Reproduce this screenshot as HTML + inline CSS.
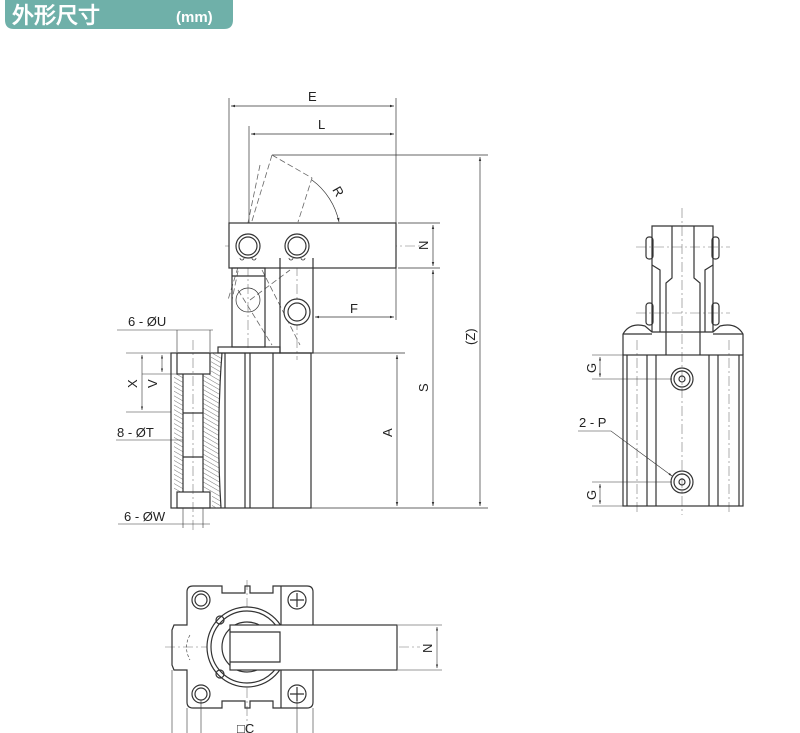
<!DOCTYPE html>
<html><head><meta charset="utf-8"><style>
body{margin:0;background:#fff;width:800px;height:733px;overflow:hidden}
svg{display:block}
text{font-family:"Liberation Sans",sans-serif;fill:#222}
</style></head><body>
<svg width="800" height="733" viewBox="0 0 800 733" xmlns="http://www.w3.org/2000/svg">
<defs>
<pattern id="h" width="4" height="4" patternUnits="userSpaceOnUse" patternTransform="rotate(-60)">
<line x1="0" y1="0" x2="0" y2="4" stroke="#666" stroke-width="0.9"/></pattern>
<marker id="a" viewBox="0 0 10 10" refX="10" refY="5" markerWidth="6" markerHeight="6" orient="auto-start-reverse"><path d="M0,2L10,5L0,8z" fill="#333"/></marker>
</defs>
<!-- header -->
<path d="M5,0 H233 V20 Q233,29 224,29 H14 Q5,29 5,20 Z" fill="#6fb0a9"/>
<text x="12" y="23" font-family="'Liberation Sans','Noto Sans CJK SC',sans-serif" font-size="22" font-weight="bold" style="fill:#fff">外形尺寸</text>
<text x="176" y="22" font-size="15" font-weight="bold" style="fill:#fff">(mm)</text>

<g fill="none" stroke="#333" stroke-width="1.2">
<!-- dimension lines top -->
<line x1="229" y1="98" x2="229" y2="223" stroke-width="0.7"/>
<line x1="396" y1="98" x2="396" y2="223" stroke-width="0.7"/>
<line x1="249" y1="126" x2="249" y2="223" stroke-width="0.7"/>
<line x1="231" y1="106" x2="394" y2="106" stroke-width="0.7" marker-start="url(#a)" marker-end="url(#a)"/>
<line x1="251" y1="134" x2="394" y2="134" stroke-width="0.7" marker-start="url(#a)" marker-end="url(#a)"/>
<line x1="272" y1="155" x2="488" y2="155" stroke-width="0.7"/>
<line x1="480" y1="157" x2="480" y2="506" stroke-width="0.7" marker-start="url(#a)" marker-end="url(#a)"/>
<line x1="398" y1="223" x2="440" y2="223" stroke-width="0.7"/>
<line x1="398" y1="268" x2="440" y2="268" stroke-width="0.7"/>
<line x1="433" y1="225" x2="433" y2="266" stroke-width="0.7" marker-start="url(#a)" marker-end="url(#a)"/>
<line x1="433" y1="270" x2="433" y2="506" stroke-width="0.7" marker-start="url(#a)" marker-end="url(#a)"/>
<line x1="311" y1="353" x2="405" y2="353" stroke-width="0.7"/>
<line x1="311" y1="508" x2="488" y2="508" stroke-width="0.7"/>
<line x1="397" y1="355" x2="397" y2="506" stroke-width="0.7" marker-start="url(#a)" marker-end="url(#a)"/>
<line x1="396" y1="268" x2="396" y2="320" stroke-width="0.7"/>
<line x1="315" y1="317" x2="394" y2="317" stroke-width="0.7" marker-start="url(#a)" marker-end="url(#a)"/>
<path d="M312,180 A70,70 0 0 1 339,222" stroke-width="0.7" marker-end="url(#a)"/>

<!-- dashed rotated lever -->
<g stroke-dasharray="6,3" stroke-width="0.8" stroke="#666">
<path d="M272,155 L312,178 L298,222"/>
<path d="M272,155 L228,300 M260,165 L232,300"/>
<path d="M238,290 L272,345 M262,270 L300,345 M250,300 L290,270"/>
</g>
<!-- centerlines -->
<g stroke-dasharray="10,3,2,3" stroke-width="0.6" stroke="#777">
<line x1="225" y1="246" x2="420" y2="246"/>
<line x1="248" y1="230" x2="248" y2="350"/>
<line x1="297" y1="230" x2="297" y2="360"/>
<line x1="193" y1="340" x2="193" y2="530"/>
</g>
<!-- lever -->
<rect x="229" y="223" width="167" height="45" fill="#fff"/>
<circle cx="248" cy="246" r="12" fill="#fff"/><circle cx="248" cy="246" r="9"/>
<path d="M240,258 a2,2 0 1 0 4,0 M252,258 a2,2 0 1 0 4,0" stroke-width="0.8"/>
<circle cx="297" cy="246" r="12" fill="#fff"/><circle cx="297" cy="246" r="9"/>
<path d="M289,258 a2,2 0 1 0 4,0 M301,258 a2,2 0 1 0 4,0" stroke-width="0.8"/>
<!-- left link -->
<rect x="232" y="268" width="33" height="79"/>
<line x1="232" y1="276" x2="265" y2="276"/>
<circle cx="248" cy="300" r="12" stroke-width="0.7"/>
<!-- right plate -->
<path d="M280,258 V353 H313 V258"/>
<circle cx="297" cy="312" r="13" fill="#fff"/><circle cx="297" cy="312" r="9"/>
<!-- flange -->
<rect x="218" y="347" width="62" height="6"/>
<!-- body -->
<rect x="171" y="353" width="140" height="155" fill="none"/>
<line x1="225" y1="353" x2="225" y2="508"/>
<line x1="245" y1="353" x2="245" y2="508"/>
<line x1="250" y1="353" x2="250" y2="508"/>
<line x1="273" y1="353" x2="273" y2="508"/>
<!-- hatch -->
<path d="M174,374 H183 V492 H174 Z" fill="url(#h)" stroke="none"/>
<path d="M203,374 H211 V353 H222 Q216,430 221,508 H212 V492 H203 Z" fill="url(#h)" stroke="none"/>
<rect x="177" y="353" width="33" height="21"/>
<rect x="177" y="492" width="33" height="16"/>
<line x1="183" y1="374" x2="183" y2="492"/>
<line x1="203" y1="374" x2="203" y2="492"/>
<line x1="183" y1="413" x2="203" y2="413"/><line x1="183" y1="457" x2="203" y2="457"/>
<path d="M222,353 Q216,430 221,508"/>
<!-- left dims -->
<line x1="117" y1="330" x2="213" y2="330" stroke-width="0.6"/>
<line x1="177" y1="330" x2="177" y2="352" stroke-width="0.6"/>
<line x1="210" y1="330" x2="210" y2="352" stroke-width="0.6"/>
<line x1="126" y1="353" x2="171" y2="353" stroke-width="0.6"/>
<line x1="126" y1="412" x2="171" y2="412" stroke-width="0.6"/>
<line x1="142" y1="374" x2="177" y2="374" stroke-width="0.6"/>
<line x1="142" y1="355" x2="142" y2="410" stroke-width="0.6" marker-start="url(#a)" marker-end="url(#a)"/>
<line x1="162" y1="355" x2="162" y2="372" stroke-width="0.6" marker-start="url(#a)" marker-end="url(#a)"/>
<line x1="116" y1="440" x2="183" y2="440" stroke-width="0.6"/>
<line x1="118" y1="524" x2="210" y2="524" stroke-width="0.6"/>
<line x1="183" y1="508" x2="183" y2="528" stroke-width="0.6"/>
<line x1="203" y1="508" x2="203" y2="528" stroke-width="0.6"/>

<!-- right view -->
<g stroke-dasharray="10,3,2,3" stroke-width="0.6" stroke="#777">
<line x1="682" y1="208" x2="682" y2="515"/>
<line x1="636" y1="247" x2="730" y2="247"/>
<line x1="636" y1="313" x2="730" y2="313"/>
<line x1="637" y1="340" x2="637" y2="515"/>
<line x1="729" y1="340" x2="729" y2="515"/>
</g>
<rect x="623" y="355" width="120" height="151"/>
<path d="M623,355 V334 Q630,322 645,326 L652,332 H713 L720,326 Q736,322 743,334 V355"/>
<line x1="623" y1="334" x2="652" y2="334"/><line x1="713" y1="334" x2="743" y2="334"/>
<line x1="627" y1="355" x2="627" y2="506"/><line x1="647" y1="355" x2="647" y2="506"/><line x1="656" y1="355" x2="656" y2="506"/>
<line x1="709" y1="355" x2="709" y2="506"/><line x1="718" y1="355" x2="718" y2="506"/><line x1="739" y1="355" x2="739" y2="506"/>
<path d="M652,332 V226 H713 V332"/>
<path d="M666,355 V283 L672,278 V226 M700,355 V283 L694,278 V226"/>
<path d="M652,265 L660,270 V332 M713,265 L705,270 V332"/>
<rect x="646" y="237" width="7" height="22" rx="3"/><rect x="712" y="237" width="7" height="22" rx="3"/>
<rect x="646" y="303" width="7" height="22" rx="3"/><rect x="712" y="303" width="7" height="22" rx="3"/>
<circle cx="682" cy="379" r="11"/><circle cx="682" cy="379" r="8"/><circle cx="682" cy="379" r="3"/>
<circle cx="682" cy="482" r="11"/><circle cx="682" cy="482" r="8"/><circle cx="682" cy="482" r="3"/>
<line x1="592" y1="355" x2="623" y2="355" stroke-width="0.6"/>
<line x1="592" y1="379" x2="672" y2="379" stroke-width="0.6"/>
<line x1="600" y1="357" x2="600" y2="377" stroke-width="0.6" marker-start="url(#a)" marker-end="url(#a)"/>
<line x1="592" y1="482" x2="672" y2="482" stroke-width="0.6"/>
<line x1="592" y1="506" x2="623" y2="506" stroke-width="0.6"/>
<line x1="600" y1="484" x2="600" y2="504" stroke-width="0.6" marker-start="url(#a)" marker-end="url(#a)"/>
<path d="M578,431 H611 L672,476" stroke-width="0.6" marker-end="url(#a)"/>

<!-- bottom view -->
<g stroke-dasharray="10,3,2,3" stroke-width="0.6" stroke="#777">
<line x1="165" y1="647" x2="420" y2="647"/>
<line x1="247" y1="580" x2="247" y2="733"/>
</g>
<path d="M193,586 H222 V593 H245 V586 H250 V593 H273 V586 H307 Q313,586 313,592 V702 Q313,708 307,708 H273 V701 H250 V708 H245 V701 H222 V708 H193 Q187,708 187,702 V670 H174 L172,665 V630 L174,625 H187 V592 Q187,586 193,586 Z"/>
<circle cx="201" cy="600" r="9"/><circle cx="201" cy="600" r="6"/>
<circle cx="201" cy="694" r="9"/><circle cx="201" cy="694" r="6"/>
<circle cx="297" cy="600" r="9"/><path d="M297,593 V607 M290,600 H304"/>
<circle cx="297" cy="694" r="9"/><path d="M297,687 V701 M290,694 H304"/>
<line x1="281" y1="586" x2="281" y2="708"/>
<circle cx="247" cy="647" r="40" fill="#fff"/>
<circle cx="247" cy="647" r="36"/>
<circle cx="247" cy="647" r="25"/>
<circle cx="220" cy="620" r="4"/><circle cx="220" cy="674" r="4"/>
<rect x="230" y="625" width="167" height="45" fill="#fff"/>
<path d="M230,632 H280 V662 H230"/>
<path d="M190,635 Q183,647 190,660" stroke-dasharray="3,2" stroke-width="0.6"/>
<line x1="398" y1="625" x2="442" y2="625" stroke-width="0.6"/>
<line x1="398" y1="670" x2="442" y2="670" stroke-width="0.6"/>
<line x1="437" y1="627" x2="437" y2="668" stroke-width="0.6" marker-start="url(#a)" marker-end="url(#a)"/>
<line x1="172" y1="670" x2="172" y2="733" stroke-width="0.6"/>
<line x1="187" y1="708" x2="187" y2="733" stroke-width="0.6"/>
<line x1="201" y1="700" x2="201" y2="733" stroke-width="0.6"/>
<line x1="297" y1="700" x2="297" y2="733" stroke-width="0.6"/>
<line x1="313" y1="708" x2="313" y2="733" stroke-width="0.6"/>
</g>
<!-- labels -->
<g font-size="13">
<text x="308" y="101">E</text>
<text x="318" y="129">L</text>
<text x="350" y="313">F</text>
<text x="333" y="196" transform="rotate(60 338 192)">R</text>
<text x="0" y="0" transform="translate(428,250) rotate(-90)">N</text>
<text x="0" y="0" transform="translate(428,392) rotate(-90)">S</text>
<text x="0" y="0" transform="translate(392,437) rotate(-90)">A</text>
<text x="0" y="0" transform="translate(475,345) rotate(-90)">(Z)</text>
<text x="128" y="326">6 - ØU</text>
<text x="0" y="0" transform="translate(137,388) rotate(-90)">X</text>
<text x="0" y="0" transform="translate(157,388) rotate(-90)">V</text>
<text x="117" y="437">8 - ØT</text>
<text x="124" y="521">6 - ØW</text>
<text x="0" y="0" transform="translate(596,373) rotate(-90)">G</text>
<text x="0" y="0" transform="translate(596,500) rotate(-90)">G</text>
<text x="579" y="427">2 - P</text>
<text x="0" y="0" transform="translate(432,653) rotate(-90)">N</text>
<text x="237" y="733">□C</text>
</g>
</svg>
</body></html>
